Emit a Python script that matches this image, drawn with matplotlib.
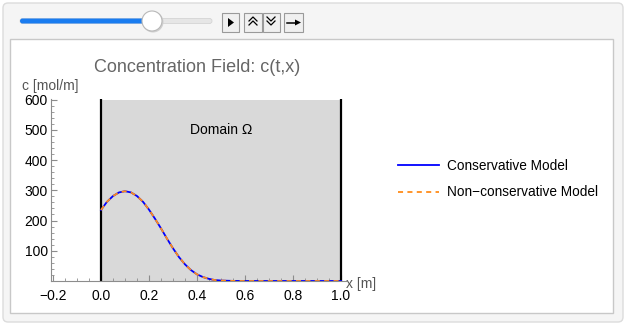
import matplotlib
matplotlib.use("Agg")
import matplotlib.pyplot as plt
from matplotlib.patches import FancyBboxPatch, Rectangle, Circle, Polygon
from matplotlib.ticker import MultipleLocator

plt.rcParams['font.family'] = ['Liberation Sans', 'DejaVu Sans']

# concentration profile
x_pos = [0.0, 0.025, 0.05, 0.075, 0.1, 0.125, 0.15, 0.175, 0.2, 0.225, 0.25,
         0.275, 0.3, 0.325, 0.35, 0.375, 0.4, 0.425, 0.45, 0.475, 0.5, 0.55,
         0.6, 0.7, 0.8, 0.9, 1.0]
c_conservative = [235, 262, 281, 293, 297, 293, 281, 262, 236, 206, 174,
                  140, 108, 79, 55, 36, 22, 13, 7, 3, 1.5, 0.3,
                  0, 0, 0, 0, 0]
c_nonconservative = list(c_conservative)

x_ticks = [-0.2, 0.0, 0.2, 0.4, 0.6, 0.8, 1.0]
y_ticks = [100, 200, 300, 400, 500, 600]
domain = (0.0, 1.0)
c_max = 600

W, H = 627, 327
fig = plt.figure(figsize=(W / 100, H / 100), dpi=100)


def fx(px):
    return px / W


def fy(py):
    return 1 - py / H


# background layer in pixel coordinates
bg = fig.add_axes([0, 0, 1, 1], zorder=0)
bg.set_xlim(0, W)
bg.set_ylim(H, 0)
bg.axis('off')

bg.add_patch(FancyBboxPatch((3, 3), 620, 319, boxstyle="round,pad=0,rounding_size=5",
                            facecolor='#f5f5f5', edgecolor='#dcdcdc', linewidth=1))
bg.add_patch(Rectangle((10, 39), 603, 274, facecolor='white', edgecolor='#c8c8c8', linewidth=1))

# slider
bg.add_patch(FancyBboxPatch((20, 18.5), 192, 5, boxstyle="round,pad=0,rounding_size=2.5",
                            facecolor='#e6e6e6', edgecolor='#d4d4d4', linewidth=0.6))
bg.add_patch(FancyBboxPatch((20, 18.5), 132, 5, boxstyle="round,pad=0,rounding_size=2.5",
                            facecolor='#1a7cf0', edgecolor='none'))
bg.add_patch(Circle((153, 22), 10.5, facecolor='#d0d0d0', edgecolor='none'))
bg.add_patch(Circle((152, 21), 10, facecolor='white', edgecolor='#b8b8b8', linewidth=0.8))

# buttons
for x0, w in [(222, 17), (244, 18), (263, 17), (284, 19)]:
    bg.add_patch(Rectangle((x0, 13), w, 19, facecolor='#f0f0f0', edgecolor='#9a9a9a', linewidth=0.8))
bg.add_patch(Polygon([(228, 18), (228, 27), (234, 22.5)], closed=True, facecolor='black'))
for dy in (0, 4):
    bg.plot([249, 253, 257], [21 + dy, 17 + dy, 21 + dy], color='black', lw=0.9)
    bg.plot([267, 271, 275], [17 + dy, 21 + dy, 17 + dy], color='black', lw=0.9)
bg.plot([287, 296], [22.5, 22.5], color='black', lw=1.1)
bg.add_patch(Polygon([(295, 19.5), (295, 25.5), (301, 22.5)], closed=True, facecolor='black'))

# main plot
ax = fig.add_axes([fx(50.6), fy(281), fx(345.8) - fx(50.6), fy(99) - fy(281)], zorder=1)
ax.patch.set_visible(False)
ax.set_xlim(-0.21, 1.02)
ax.set_ylim(0, 602)

ax.add_patch(Rectangle((domain[0], 0), domain[1] - domain[0], c_max,
                       facecolor='#d9d9d9', edgecolor='none', zorder=1))
ax.plot([domain[0], domain[0]], [0, c_max], color='black', lw=1.6, zorder=2)
ax.plot([domain[1], domain[1]], [0, c_max], color='black', lw=1.6, zorder=2)
ax.text(0.5, 500, 'Domain Ω', ha='center', va='center', fontsize=10, zorder=3)

ax.plot(x_pos, c_conservative, color='#0000ff', lw=1.3, zorder=4, label='Conservative Model')
ax.plot(x_pos, c_nonconservative, color='#ff8c1a', lw=1.3, ls=(0, (2.8, 2.4)), zorder=5,
        label='Non\u2212conservative Model')

for s in ['top', 'right']:
    ax.spines[s].set_visible(False)
for s in ['left', 'bottom']:
    ax.spines[s].set_color('#8c8c8c')
    ax.spines[s].set_linewidth(0.8)

ax.set_xticks(x_ticks)
ax.set_xticklabels(['\u22120.2', '0.0', '0.2', '0.4', '0.6', '0.8', '1.0'])
ax.set_yticks(y_ticks)
ax.xaxis.set_minor_locator(MultipleLocator(0.05))
ax.yaxis.set_minor_locator(MultipleLocator(20))
ax.tick_params(which='both', direction='in', color='#8c8c8c', labelsize=10, labelcolor='black')
ax.tick_params(which='major', length=4, width=0.8)
ax.tick_params(which='minor', length=2, width=0.6)
ax.tick_params(axis='x', which='major', pad=6)
ax.tick_params(axis='y', which='major', pad=2)

fig.text(fx(197), fy(67), 'Concentration Field: c(t,x)', ha='center', va='center',
         fontsize=13, color='#666666')
fig.text(fx(22), fy(86), 'c [mol/m]', ha='left', va='center', fontsize=10, color='#555555')
fig.text(fx(346), fy(284), 'x [m]', ha='left', va='center', fontsize=10, color='#555555')

fig.legend(loc='center left', bbox_to_anchor=(fx(386), fy(179)), frameon=False,
           fontsize=9.8, handlelength=3.0, handletextpad=0.55, labelspacing=0.95)

fig.savefig('out.png', dpi=100)
